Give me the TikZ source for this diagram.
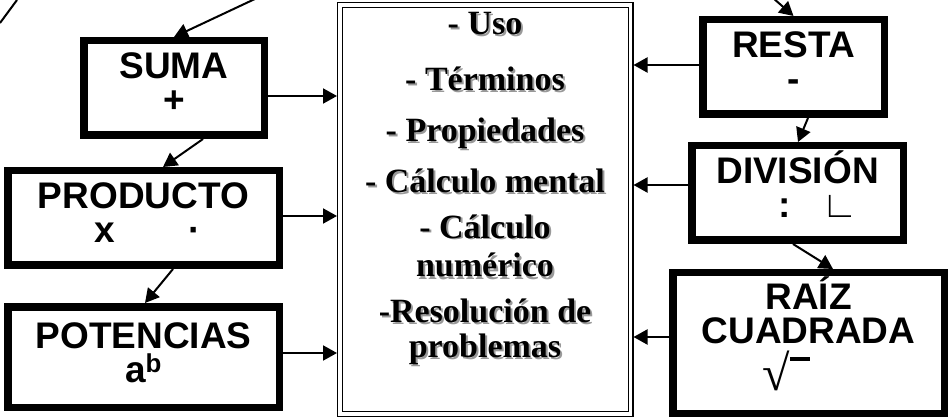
\documentclass[tikz,border=0pt]{standalone}
\usepackage{fontspec}
\setmainfont{Liberation Serif}
\newfontfamily\arialfont{Liberation Sans}
\usetikzlibrary{arrows.meta}

\newcommand\sombreado[1]{\rlap{\hspace{2pt}\raisebox{-2pt}{\textcolor{black!40}{#1}}}#1}

\tikzset{
  operacion/.style={draw, line width=7.5pt, fill=white, inner sep=0pt, align=center,
    font=\arialfont\bfseries\fontsize{37}{34}\selectfont},
  flecha/.style={-{Triangle[length=14pt,width=15pt]}, line width=2pt},
  apartado/.style={anchor=base, inner sep=0pt, align=center, font=\bfseries\fontsize{34}{37}\selectfont},
}

\begin{document}
\begin{tikzpicture}[x=1pt,y=-1pt]
        \useasboundingbox (0,0) rectangle (952,419);

        % caja central
        \node[draw, double, line width=1.3pt, double distance=3.4pt, minimum width=290.5pt, minimum height=409pt, outer sep=3pt] (contenido) at (485.25,209.5) {};
        \foreach \y/\t [count=\i] in {35/\sombreado{- Uso}, 91/\sombreado{- Términos}, 142/\sombreado{- Propiedades}, 193/\sombreado{- Cálculo mental},
                277/\sombreado{- Cálculo}\\[2pt]\sombreado{numérico}, 357/\sombreado{-Resolución de}\\[-2pt]\sombreado{problemas}}{
            \node[apartado] (linea\i) at (485,\y) {\t};
        }

        % operaciones izquierda
        \node[operacion, minimum width=180.5pt, minimum height=94.5pt, text height=60pt, text depth=10pt] (suma) at (174,88) {SUMA\\+};
        \node[operacion, minimum width=271.5pt, minimum height=94.5pt, text height=61pt, text depth=11pt] (producto) at (143.5,218) {PRODUCTO\\\hspace*{8pt}x\hspace{74pt}·};
        \node[operacion, minimum width=271.5pt, minimum height=100.5pt, text height=61.5pt, text depth=11.5pt] (potencias) at (143.5,357) {POTENCIAS\\a\textsuperscript{b}};

        % operaciones derecha
        \node[operacion, minimum width=181.5pt, minimum height=94.5pt, text height=59pt, text depth=9pt] (resta) at (793.5,67) {RESTA\\-};
        \node[operacion, minimum width=211.5pt, minimum height=94.5pt, text height=59.5pt, text depth=9.5pt] (division) at (797.5,193) {DIVISIÓN\\\hspace{41pt}:\hspace{31pt}{\mdseries ∟}};
        \node[operacion, minimum width=271.5pt, minimum height=140.5pt, text height=107pt, text depth=13pt] (raiz) at (808.5,343) {RAÍZ\\CUADRADA\\[6pt]{\rmfamily\mdseries\fontsize{50}{50}\selectfont √}\rule[29pt]{20pt}{4pt}\hspace*{44pt}};

        \coordinate (trazo1) at (0,23);
        \coordinate (trazo2) at (17,0);
        \coordinate (entradasuma) at (257,-2);
        \coordinate (entradaresta) at (773,-2);

        \draw[line width=2pt] (trazo1) -- (trazo2);
        \draw[flecha] (entradasuma) -- (suma.north);
        \draw[flecha] ([xshift=29pt]suma.south) -- ([xshift=19.5pt]producto.north);
        \draw[flecha] ([xshift=29.5pt]producto.south) -- ([xshift=1.5pt]potencias.north);

        \draw[flecha] (entradaresta) -- (resta.north);
        \draw[flecha] ([xshift=14.5pt]resta.south) -- ([xshift=0.5pt]division.north);
        \draw[flecha] ([xshift=-4.5pt]division.south) -- ([xshift=24.5pt]raiz.north);

        %% hacia la caja central
        \draw[flecha] ([yshift=-8pt]suma.east) -- ([yshift=-8pt]suma.east -| contenido.west);
        \draw[flecha] ([yshift=2pt]producto.east) -- ([yshift=2pt]producto.east -| contenido.west);
        \draw[flecha] ([yshift=4pt]potencias.east) -- ([yshift=4pt]potencias.east -| contenido.west);

        \draw[flecha] ([yshift=2pt]resta.west) -- ([yshift=2pt]resta.west -| contenido.east);
        \draw[flecha] ([yshift=8pt]division.west) -- ([yshift=8pt]division.west -| contenido.east);
        \draw[flecha] ([yshift=6pt]raiz.west) -- ([yshift=6pt]raiz.west -| contenido.east);
\end{tikzpicture}
\end{document}
